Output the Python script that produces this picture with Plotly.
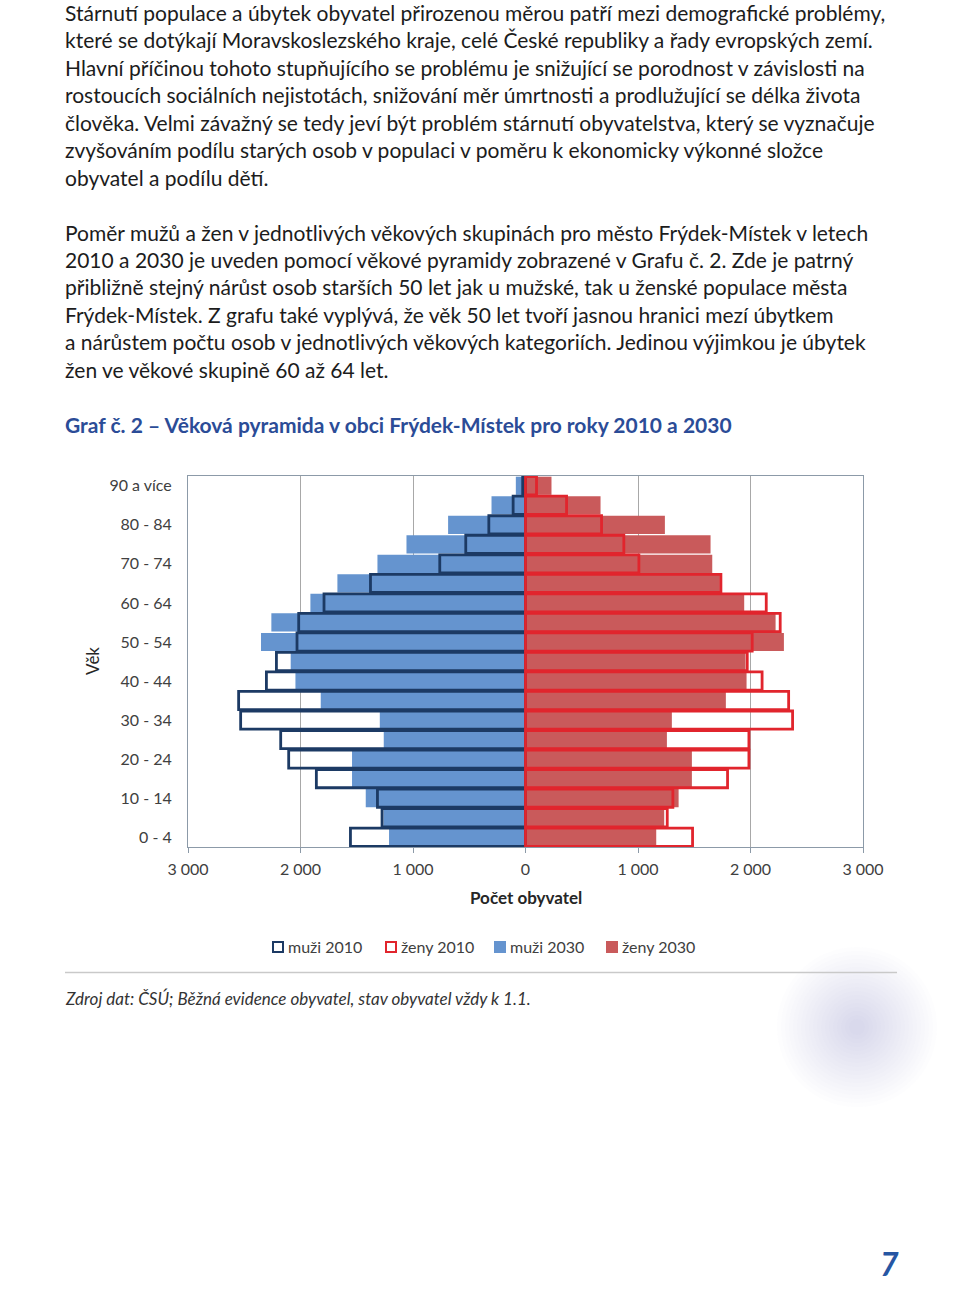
import plotly.graph_objects as go

# ---------------- data ----------------
ages = ["0 - 4", "5 - 9", "10 - 14", "15 - 19", "20 - 24", "25 - 29", "30 - 34",
        "35 - 39", "40 - 44", "45 - 49", "50 - 54", "55 - 59", "60 - 64",
        "65 - 69", "70 - 74", "75 - 79", "80 - 84", "85 - 89", "90 a více"]
muzi_2010 = [1556, 1275, 1316, 1859, 2105, 2176, 2532, 2550, 2303, 2214,
             2031, 2016, 1791, 1378, 762, 531, 326, 110, 25]
zeny_2010 = [1485, 1260, 1310, 1796, 1986, 1986, 2374, 2339, 2103, 1971,
             2015, 2264, 2140, 1737, 1008, 874, 676, 365, 98]
muzi_2030 = [1213, 1262, 1420, 1542, 1542, 1260, 1295, 1820, 2045, 2087,
             2351, 2259, 1912, 1672, 1316, 1058, 688, 302, 86]
zeny_2030 = [1162, 1233, 1361, 1479, 1479, 1257, 1301, 1781, 1965, 1956,
             2297, 2223, 1944, 1728, 1660, 1645, 1239, 667, 231]
x_ticks = [-3000, -2000, -1000, 0, 1000, 2000, 3000]
x_tick_labels = ["3 000", "2 000", "1 000", "0", "1 000", "2 000", "3 000"]
y_tick_labels = ages[::2]
legend_names = ["muži 2010", "ženy 2010", "muži 2030", "ženy 2030"]

para1 = [
    "Stárnutí populace a úbytek obyvatel přirozenou měrou patří mezi demografické problémy,",
    "které se dotýkají Moravskoslezského kraje, celé České republiky a řady evropských zemí.",
    "Hlavní příčinou tohoto stupňujícího se problému je snižující se porodnost v závislosti na",
    "rostoucích sociálních nejistotách, snižování měr úmrtnosti a prodlužující se délka života",
    "člověka. Velmi závažný se tedy jeví být problém stárnutí obyvatelstva, který se vyznačuje",
    "zvyšováním podílu starých osob v populaci v poměru k ekonomicky výkonné složce",
    "obyvatel a podílu dětí.",
]
para2 = [
    "Poměr mužů a žen v jednotlivých věkových skupinách pro město Frýdek-Místek v letech",
    "2010 a 2030 je uveden pomocí věkové pyramidy zobrazené v Grafu č. 2. Zde je patrný",
    "přibližně stejný nárůst osob starších 50 let jak u mužské, tak u ženské populace města",
    "Frýdek-Místek. Z grafu také vyplývá, že věk 50 let tvoří jasnou hranici mezí úbytkem",
    "a nárůstem počtu osob v jednotlivých věkových kategoriích. Jedinou výjimkou je úbytek",
    "žen ve věkové skupině 60 až 64 let.",
]
title_text = "Graf č. 2 – Věková pyramida v obci Frýdek-Místek pro roky 2010 a 2030"
source_text = "Zdroj dat: ČSÚ; Běžná evidence obyvatel, stav obyvatel vždy k 1.1."

# ---------------- geometry helpers (page pixels) ----------------
W, H = 960, 1303
PL, PR, PT, PB = 188, 863, 476, 847


def px(x):
    return (x - PL) / (PR - PL)


def py(y):
    return (PB - y) / (PB - PT)


FONT = "Lato"
C_BLUE = "#6594cf"
C_RED = "#c95a5b"
C_NAVY = "#1c3a64"
C_RED_LINE = "#e1252d"

fig = go.Figure()
fig.add_trace(go.Bar(y=ages, x=[-v for v in muzi_2030], orientation="h", name="muži 2030",
                     marker=dict(color=C_BLUE, line=dict(width=0)), showlegend=False))
fig.add_trace(go.Bar(y=ages, x=zeny_2030, orientation="h", name="ženy 2030",
                     marker=dict(color=C_RED, line=dict(width=0)), showlegend=False))
fig.add_trace(go.Bar(y=ages, x=[-v for v in muzi_2010], orientation="h", name="muži 2010",
                     marker=dict(color="rgba(0,0,0,0)", line=dict(color=C_NAVY, width=2.8)),
                     showlegend=False))
fig.add_trace(go.Bar(y=ages, x=zeny_2010, orientation="h", name="ženy 2010",
                     marker=dict(color="rgba(0,0,0,0)", line=dict(color=C_RED_LINE, width=2.8)),
                     showlegend=False))


def note(x, y, text, font, xanchor="left", **kw):
    return dict(x=px(x), y=py(y), xref="paper", yref="paper", text=text, showarrow=False,
                xanchor=xanchor, yanchor="middle", font=font, **kw)


ann = []
shapes = []
body_font = dict(family=FONT, size=21, color="#1c1c1c")
for i, line in enumerate(para1):
    ann.append(note(63, 12 + i * 27.5, line, body_font))
for i, line in enumerate(para2):
    ann.append(note(63, 232 + i * 27.4, line, body_font))
ann.append(note(63, 424, "<b>" + title_text + "</b>",
                dict(family=FONT, size=21, color="#2b4c97")))
ann.append(note(92, 661, "Věk", dict(family=FONT, size=17, color="#262626"),
                xanchor="center", textangle=-90))
ann.append(note(526, 897, "<b>Počet obyvatel</b>", dict(family=FONT, size=17, color="#262626"),
                xanchor="center"))
ann.append(note(63, 998, "<i>" + source_text + "</i>", dict(family=FONT, size=17, color="#333333")))
ann.append(note(889, 1263, "<b><i>7</i></b>", dict(family=FONT, size=32, color="#2656a3"),
                xanchor="center"))

# custom legend (swatch + label)
leg_x = [272, 385, 494, 606]
leg_fill = ["white", "white", C_BLUE, C_RED]
leg_line = [C_NAVY, C_RED_LINE, C_BLUE, C_RED]
for xs, name, fc, lc in zip(leg_x, legend_names, leg_fill, leg_line):
    shapes.append(dict(type="rect", xref="paper", yref="paper",
                       x0=px(xs + 1), x1=px(xs + 11), y0=py(952), y1=py(942),
                       fillcolor=fc, line=dict(color=lc, width=2)))
    ann.append(note(xs + 14, 946, name, dict(family=FONT, size=16, color="#404040")))

# soft blurred blob (bottom right decoration)
cx, cy = 857, 1027
for r in range(80, 4, -4):
    shapes.append(dict(type="circle", xref="paper", yref="paper",
                       x0=px(cx - r), x1=px(cx + r), y0=py(cy + r), y1=py(cy - r),
                       fillcolor="#a9b0c4", opacity=0.02, line=dict(width=0), layer="below"))
# grey separator line under chart
shapes.append(dict(type="line", xref="paper", yref="paper", x0=px(65), x1=px(897),
                   y0=py(972.5), y1=py(972.5), line=dict(color="#c9c9c9", width=1.5)))

fig.update_layout(
    width=W, height=H,
    margin=dict(l=PL, r=W - PR, t=PT, b=H - PB, autoexpand=False),
    paper_bgcolor="white", plot_bgcolor="white",
    barmode="overlay", bargap=0.07,
    font=dict(family=FONT, color="#404040"),
    showlegend=False,
    annotations=ann, shapes=shapes,
)
fig.update_xaxes(range=[-3000, 3000], tickvals=x_ticks, ticktext=x_tick_labels,
                 showgrid=True, gridcolor="#a8a8a8", gridwidth=1, zeroline=False,
                 showline=True, linecolor="#8c9aa8", linewidth=1, mirror=True,
                 ticks="outside", ticklen=5, tickcolor="#8c9aa8", automargin=False,
                 ticklabelstandoff=3,
                 tickfont=dict(family=FONT, size=16, color="#404040"), fixedrange=True)
fig.update_yaxes(type="category", categoryorder="array", categoryarray=ages,
                 tickvals=y_tick_labels, ticktext=y_tick_labels, automargin=False,
                 showgrid=False, zeroline=False, showline=True, linecolor="#8c9aa8",
                 linewidth=1, mirror=True, ticks="", ticklabelstandoff=12,
                 tickfont=dict(family=FONT, size=16, color="#404040"), fixedrange=True)

fig.write_html("out.html", config={"displayModeBar": False},
               post_script="document.body.style.margin='0px';document.body.style.padding='0px';")
